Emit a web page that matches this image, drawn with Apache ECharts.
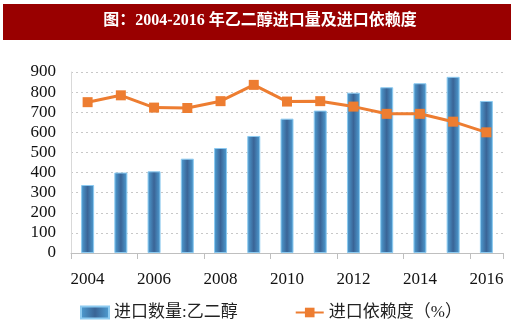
<!DOCTYPE html>
<html>
<head>
<meta charset="utf-8">
<script src="https://cdn.jsdelivr.net/npm/echarts@6/dist/echarts.min.js"></script>
<style>
  html, body { margin: 0; padding: 0; background: #ffffff; }
  #chart { width: 520px; height: 332px; }
</style>
</head>
<body>
<div id="chart"></div>
<script>
// Ethylene glycol imports, 2004-2016
const years = ['2004','2005','2006','2007','2008','2009','2010','2011','2012','2013','2014','2015','2016'];
const importVolume = [338, 400, 406, 469, 522, 582, 668, 708, 797, 824, 844, 876, 756];
const importDependence = [750, 784, 723, 721, 755, 836, 753, 755, 728, 692, 692, 653, 600];
const yTicks = [0, 100, 200, 300, 400, 500, 600, 700, 800, 900];

const titleText = '图：2004-2016 年乙二醇进口量及进口依赖度';
const seriesNames = ['进口数量:乙二醇', '进口依赖度（%）'];

const serif = '"Liberation Serif", "Noto Sans CJK SC", serif';

const chart = echarts.init(document.getElementById('chart'), null, { renderer: 'canvas' });

chart.setOption({
  animation: false,
  backgroundColor: '#ffffff',
  graphic: [
    {
      type: 'rect',
      shape: { x: 3, y: 4, width: 508, height: 36 },
      style: { fill: '#990000' },
      z: 0
    },
    {
      type: 'text',
      left: 'center',
      top: 13,
      style: {
        text: titleText,
        fill: '#ffffff',
        font: 'bold 16px ' + serif
      },
      z: 1
    }
  ],
  legend: {
    left: 75,
    top: 299,
    itemWidth: 28,
    itemHeight: 12,
    itemGap: 57,
    textStyle: { fontFamily: serif, fontSize: 17, color: '#222' },
    data: [
      { name: seriesNames[0], icon: 'rect' },
      { name: seriesNames[1] }
    ]
  },
  grid: { left: 71, right: 17, top: 72, bottom: 79, containLabel: false },
  xAxis: {
    type: 'category',
    data: years,
    boundaryGap: true,
    axisLine: { lineStyle: { color: '#bfbfbf', width: 1 } },
    axisTick: { show: true, interval: 1, length: 6, lineStyle: { color: '#bfbfbf' } },
    axisLabel: { interval: 1, margin: 18, fontFamily: serif, fontSize: 17, color: '#111' }
  },
  yAxis: {
    type: 'value',
    min: yTicks[0],
    max: yTicks[yTicks.length - 1],
    interval: 100,
    axisLine: { show: true, lineStyle: { color: '#d9d9d9', width: 1 } },
    axisTick: { show: false },
    splitLine: { lineStyle: { color: '#c8c8c8', type: [2, 3], width: 1 } },
    axisLabel: { margin: 15, fontFamily: serif, fontSize: 17, color: '#111' }
  },
  series: [
    {
      name: seriesNames[0],
      type: 'bar',
      data: importVolume,
      barWidth: 13,
      itemStyle: {
        color: new echarts.graphic.LinearGradient(0, 0, 1, 0, [
          { offset: 0, color: '#4f9fd4' },
          { offset: 0.5, color: '#3a6496' },
          { offset: 1, color: '#4f9fd4' }
        ]),
        borderColor: '#8ccaf0',
        borderWidth: 1
      },
      z: 2
    },
    {
      name: seriesNames[1],
      type: 'line',
      data: importDependence,
      symbol: 'rect',
      symbolSize: 10,
      lineStyle: { color: '#ed7d31', width: 3 },
      itemStyle: { color: '#ed7d31' },
      z: 3
    }
  ]
});
</script>
</body>
</html>
